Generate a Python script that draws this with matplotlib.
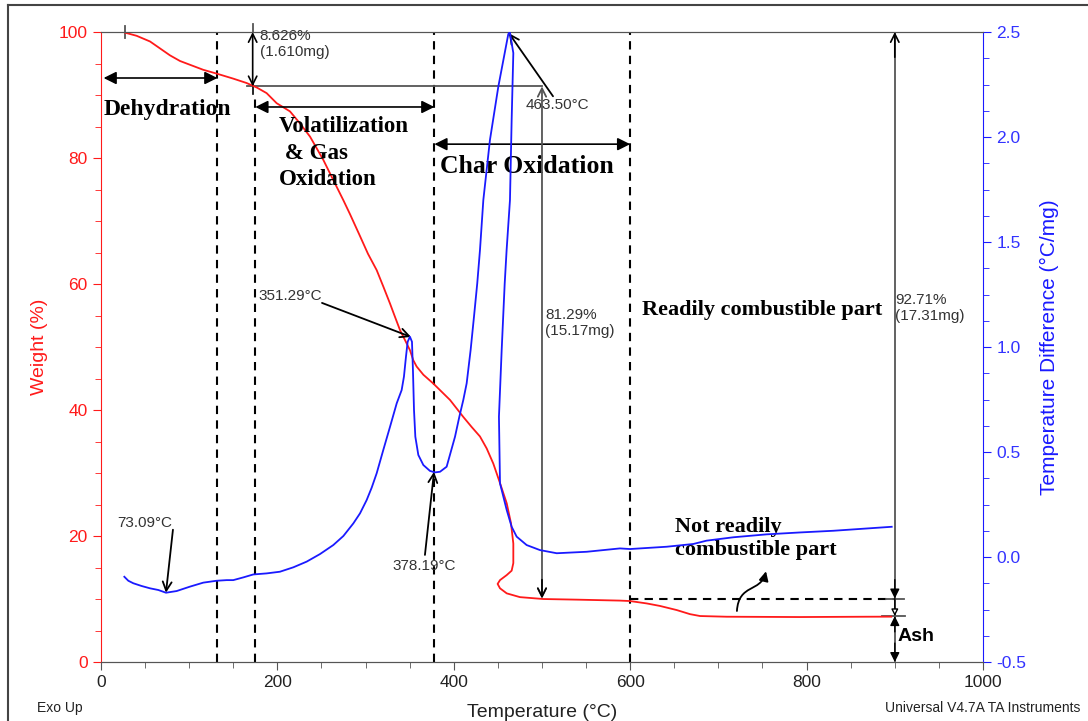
import matplotlib
matplotlib.use("Agg")

import matplotlib.pyplot as plt
from matplotlib.lines import Line2D
from matplotlib.patches import FancyArrowPatch
from matplotlib.path import Path
from matplotlib.ticker import FormatStrFormatter, MultipleLocator

# TGA weight curve (temperature in °C, weight in %)
weight_temp = [27.2, 40.4, 55.6, 66.9, 78.2, 89.6, 100.9, 116.0, 131.1, 150.0, 165.2, 176.5, 187.8,
               199.2, 214.3, 225.6, 237.0, 252.1, 263.4, 274.8, 282.3, 293.7, 302.7, 312.6, 320.1, 327.7,
               333.3, 339.0, 344.7, 350.3, 354.1, 357.9, 365.5, 376.8, 395.7, 410.8, 420.3, 429.7,
               437.3, 444.8, 452.4, 460.0, 464.9, 467.5, 467.5, 465.6, 460.0, 452.4, 449.7, 452.4,
               460.0, 475.0, 501.5, 540.0, 588.4, 599.8, 618.7, 633.8, 652.7, 667.8, 679.2, 709.4,
               792.0, 868.0, 896.0]
weight_pct = [99.9, 99.4, 98.5, 97.4, 96.3, 95.4, 94.8, 94.0, 93.4, 92.6, 91.9, 91.2, 90.3,
              88.7, 87.4, 85.5, 83.4, 79.7, 76.5, 73.3, 71.1, 67.6, 64.8, 62.2, 59.6, 56.9,
              54.8, 52.7, 51.1, 49.5, 47.9, 46.9, 45.6, 44.2, 41.6, 38.9, 37.3, 35.8,
              33.9, 31.5, 28.4, 25.2, 22.0, 18.8, 15.7, 14.5, 13.8, 13.0, 12.4, 11.7,
              10.9, 10.3, 10.0, 9.9, 9.75, 9.68, 9.3, 8.9, 8.25, 7.6, 7.3, 7.19,
              7.14, 7.19, 7.2]

# DTA curve (temperature in °C, temperature difference in °C/mg)
dta_temp = [26.5, 31.0, 36.7, 46.1, 55.6, 65.0, 73.7, 85.8, 100.9, 116.0, 131.1, 142.5, 150.0,
            161.4, 172.7, 187.8, 202.9, 218.1, 233.2, 248.3, 263.4, 274.8, 286.1, 293.7, 301.2,
            306.9, 312.6, 320.1, 327.7, 335.3, 340.9, 343.5, 345.8, 347.7, 350.3, 352.6, 353.7,
            354.9, 356.4, 359.8, 365.5, 373.0, 378.7, 384.4, 391.9, 401.4, 406.3, 410.8, 414.6,
            419.1, 422.9, 426.6, 429.7, 433.5, 441.0, 450.5, 461.8, 463.5, 467.5, 465.6, 463.7,
            459.9, 457.7, 454.3, 451.2, 452.4, 460.0, 465.6, 471.3, 482.6, 497.7, 516.7, 550.7,
            588.4, 599.8, 641.4, 671.5, 686.7, 716.9, 754.8, 792.5, 830.3, 896.5]
dta_val = [-0.094, -0.113, -0.125, -0.138, -0.149, -0.157, -0.170, -0.162, -0.141, -0.122, -0.113, -0.110, -0.110,
           -0.097, -0.083, -0.078, -0.070, -0.049, -0.022, 0.014, 0.057, 0.100, 0.160, 0.208, 0.271,
           0.330, 0.399, 0.510, 0.620, 0.732, 0.795, 0.859, 0.954, 1.025, 1.049, 1.025, 0.890,
           0.700, 0.573, 0.486, 0.438, 0.410, 0.403, 0.406, 0.430, 0.573, 0.668, 0.748, 0.827,
           0.986, 1.144, 1.303, 1.462, 1.700, 1.986, 2.240, 2.490, 2.500, 2.400, 2.080, 1.700,
           1.462, 1.300, 0.986, 0.668, 0.351, 0.224, 0.144, 0.097, 0.057, 0.033, 0.018, 0.025,
           0.041, 0.038, 0.049, 0.062, 0.078, 0.094, 0.108, 0.117, 0.125, 0.144]

# stage boundaries and measured steps
stage_bounds = [132, 175, 378, 600]
first_step = 8.626
residue_500 = 10.08
final_residue = 7.29

RED = "#ff1a1a"
BLUE = "#1a1aff"
GREY = "#555555"
TXT = "#333333"
SANS = "Liberation Sans"
SERIF = "Liberation Serif"

plt.rcParams["font.family"] = SANS

fig = plt.figure(figsize=(10.88, 7.21), dpi=100)
ax = fig.add_axes([0.0928, 0.0818, 0.8107, 0.8738])
ax2 = ax.twinx()

ax.plot(weight_temp, weight_pct, color=RED, lw=1.3, zorder=3)
ax2.plot(dta_temp, dta_val, color=BLUE, lw=1.3, zorder=3)

ax.set_xlim(0, 1000)
ax.set_ylim(0, 100)
ax2.set_ylim(-0.5, 2.5)

ax.xaxis.set_major_locator(MultipleLocator(200))
ax.xaxis.set_minor_locator(MultipleLocator(50))
ax.yaxis.set_major_locator(MultipleLocator(20))
ax.yaxis.set_minor_locator(MultipleLocator(5))
ax2.yaxis.set_major_locator(MultipleLocator(0.5))
ax2.yaxis.set_minor_locator(MultipleLocator(0.125))
ax2.yaxis.set_major_formatter(FormatStrFormatter("%.1f"))

for a in (ax, ax2):
    a.spines["top"].set_color(GREY)
    a.spines["bottom"].set_color(GREY)
ax.spines["left"].set_color(RED)
ax.spines["right"].set_visible(False)
ax2.spines["left"].set_visible(False)
ax2.spines["right"].set_color(BLUE)

ax.tick_params(axis="x", which="both", direction="out", colors=GREY, labelcolor="#222222", labelsize=12.5)
ax.tick_params(axis="x", which="major", length=6)
ax.tick_params(axis="x", which="minor", length=4)
ax.tick_params(axis="y", which="both", direction="out", colors=RED, labelsize=12.5)
ax.tick_params(axis="y", which="major", length=6)
ax.tick_params(axis="y", which="minor", length=4)
ax2.tick_params(axis="y", which="both", direction="out", colors=BLUE, labelcolor="#3333ff", labelsize=12.5)
ax2.tick_params(axis="y", which="major", length=6)
ax2.tick_params(axis="y", which="minor", length=4)

ax.set_xlabel("Temperature (°C)", fontsize=14, color="#222222", labelpad=10)
ax.set_ylabel("Weight (%)", fontsize=14, color=RED, labelpad=8)
ax2.set_ylabel("Temperature Difference (°C/mg)", fontsize=15, color=BLUE, labelpad=10)

# stage boundaries
dash = dict(color="black", lw=1.5, ls=(0, (4, 3)), zorder=2)
ax.plot([stage_bounds[0]] * 2, [0, 100], **dash)
ax.plot([stage_bounds[1]] * 2, [0, 90], **dash)
ax.plot([stage_bounds[2]] * 2, [0, 100], **dash)
ax.plot([stage_bounds[3]] * 2, [0, 100], **dash)
ax.plot([stage_bounds[3], 900], [residue_500, residue_500], **dash)

# stage arrows
stage_arrow = dict(arrowstyle="<|-|>", color="black", lw=1.2, mutation_scale=19, shrinkA=0, shrinkB=0)
ax.annotate("", xy=(3, 92.7), xytext=(stage_bounds[0], 92.7), arrowprops=stage_arrow)
ax.annotate("", xy=(stage_bounds[1], 88.1), xytext=(stage_bounds[2], 88.1), arrowprops=stage_arrow)
ax.annotate("", xy=(stage_bounds[2], 82.2), xytext=(stage_bounds[3], 82.2), arrowprops=stage_arrow)

bold_serif = dict(family=SERIF, weight="bold", color="black")
ax.text(3, 87.7, "Dehydration", fontsize=17, va="center", ha="left", **bold_serif)
ax.text(202, 86.7, "Volatilization\n & Gas\nOxidation", fontsize=16.5, va="top", ha="left",
        linespacing=1.36, **bold_serif)
ax.text(384, 78.6, "Char Oxidation", fontsize=18.5, va="center", ha="left", **bold_serif)
ax.text(613, 55.9, "Readily combustible part", fontsize=16, va="center", ha="left", **bold_serif)
ax.text(651, 19.6, "Not readily\ncombustible part", fontsize=16, va="center", ha="left",
        linespacing=1.25, **bold_serif)
ax.text(903, 4.0, "Ash", fontsize=14, weight="bold", va="center", ha="left", color="black")

# measurement lines
step_level = 100 - first_step
meas = dict(color=GREY, lw=1.3)
ax.plot([27, 27], [99.0, 101.0], clip_on=False, **meas)
ax.plot([165, 500], [step_level, step_level], **meas)
ax.plot([172, 172], [100, 101.2], clip_on=False, **meas)
ax.plot([172, 172], [step_level - 1.2, step_level + 0.5], color="black", lw=1.2)
open_arrow = dict(arrowstyle="<->", color="black", lw=1.2, mutation_scale=15, shrinkA=0, shrinkB=0)
ax.annotate("", xy=(172, 100), xytext=(172, step_level), arrowprops=open_arrow)
ax.annotate("", xy=(500, step_level), xytext=(500, residue_500),
            arrowprops=dict(arrowstyle="<->", color=GREY, lw=1.3, mutation_scale=15, shrinkA=0, shrinkB=0))
ax.annotate("", xy=(500, residue_500), xytext=(500, residue_500 + 3),
            arrowprops=dict(arrowstyle="->", color="black", lw=1.2, mutation_scale=15, shrinkA=0, shrinkB=0))

ax.plot([900, 900], [0, 100], **meas)
ax.annotate("", xy=(900, 100), xytext=(900, 96),
            arrowprops=dict(arrowstyle="->", color="black", lw=1.2, mutation_scale=15, shrinkA=0, shrinkB=0))
filled = dict(arrowstyle="-|>", color="black", lw=1.0, mutation_scale=14, shrinkA=0, shrinkB=0)
ax.annotate("", xy=(900, residue_500), xytext=(900, residue_500 + 3), arrowprops=filled)
ax.annotate("", xy=(900, final_residue), xytext=(900, residue_500),
            arrowprops=dict(arrowstyle="-|>", color="black", lw=1.0, mutation_scale=10, shrinkA=0, shrinkB=0,
                            fc="white"))
ax.annotate("", xy=(900, final_residue), xytext=(900, final_residue - 2.5), arrowprops=filled)
ax.annotate("", xy=(900, 0), xytext=(900, 3), arrowprops=filled, annotation_clip=False)
ax.plot([886, 912], [final_residue, final_residue], color=GREY, lw=1.3)
ax.plot([890, 910], [residue_500, residue_500], color=GREY, lw=1.3)

# value labels
val = dict(fontsize=11, color=TXT, family=SANS)
ax.text(180, 100.4, "8.626%\n(1.610mg)", va="top", ha="left", linespacing=1.15, **val)
ax.text(482, 88.4, "463.50°C", va="center", ha="left", **val)
ax.text(503.5, 56.2, "81.29%\n(15.17mg)", va="top", ha="left", linespacing=1.2, **val)
ax.text(900.5, 58.6, "92.71%\n(17.31mg)", va="top", ha="left", linespacing=1.2, **val)
ax.text(19, 22.1, "73.09°C", va="center", ha="left", **val)
ax.text(178, 58.1, "351.29°C", va="center", ha="left", **val)
ax.text(330, 15.2, "378.19°C", va="center", ha="left", **val)

pointer = dict(arrowstyle="->", color="black", lw=1.3, mutation_scale=16, shrinkA=0, shrinkB=0)
ax.annotate("", xy=(73.7, 11.0), xytext=(81.6, 21.0), arrowprops=pointer)
ax.annotate("", xy=(351.5, 51.6), xytext=(250.6, 57.0), arrowprops=pointer)
ax.annotate("", xy=(377.6, 30.2), xytext=(367.3, 17.0), arrowprops=pointer)
ax.annotate("", xy=(462.6, 99.8), xytext=(512.5, 89.8), arrowprops=pointer)

# curly arrow towards "Not readily combustible part"
curl = Path([(721, 8.1), (723, 12.5), (748, 11.0), (754, 14.4)],
            [Path.MOVETO, Path.CURVE4, Path.CURVE4, Path.CURVE4])
ax.add_patch(FancyArrowPatch(path=curl, arrowstyle="-|>", mutation_scale=14, color="black", lw=1.3,
                             transform=ax.transData))

# frame around the figure
fig.add_artist(Line2D([0.0075, 0.0075], [0.0, 0.993], color="#444444", lw=1.5))
fig.add_artist(Line2D([0.0075, 1.0], [0.993, 0.993], color="#444444", lw=1.5))

fig.text(0.034, 0.018, "Exo Up", fontsize=10, color="#222222", va="center", ha="left")
fig.text(0.9926, 0.018, "Universal V4.7A TA Instruments", fontsize=10, color="#222222", va="center", ha="right")

fig.savefig("out.png", dpi=100)
